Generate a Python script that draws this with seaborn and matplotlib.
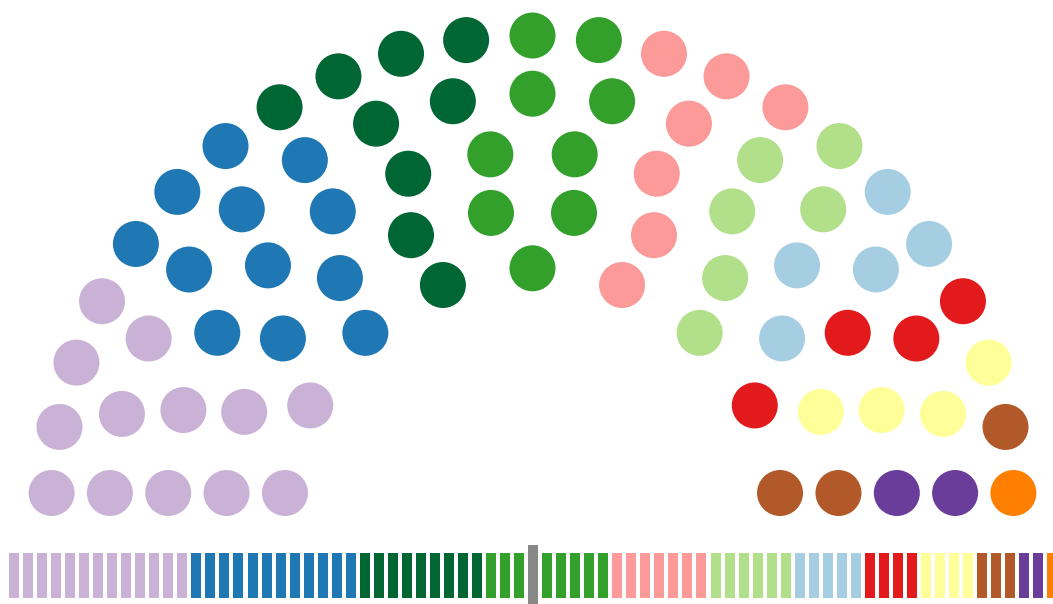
import numpy as np
import pandas as pd
import matplotlib
matplotlib.use("Agg")
import matplotlib.pyplot as plt
import seaborn as sns

# ---- data ----
parties = ["Lilac", "Blue", "Dark green", "Green", "Pink", "Light green",
           "Light blue", "Red", "Yellow", "Brown", "Purple", "Orange"]
seats = [13, 12, 9, 9, 7, 6, 5, 4, 4, 3, 2, 1]
colors = ["#cab2d6", "#1f78b4", "#006633", "#33a02c", "#fb9a99", "#b2df8a",
          "#a6cee3", "#e31a1c", "#ffff99", "#b15928", "#6a3d9a", "#ff7f00"]

# ---- layout (pixel space) ----
ring_seats = [9, 12, 14, 17, 23]
W, H = 1053, 604
cx, base_y, lift = 532.5, 493.0, 24.0
r_inner, r_step = 248.7, 58.2
cy = base_y + lift
seat_diam_px = 46
bar_x0, bar_pitch, bar_w = 9.0, 14.03, 10.0
bar_top, bar_h = 553.0, 45.0
mark_top, mark_h = 545.0, 60.0

sns.set_theme(style="white")

rows = []
for i, n in enumerate(ring_seats):
    R = r_inner + i * r_step
    t0 = np.arcsin(lift / R)
    for p in np.linspace(t0, np.pi - t0, n):
        rows.append((p, cx - R * np.cos(p), cy - R * np.sin(p)))
rows.sort(key=lambda t: t[0])
df = pd.DataFrame(rows, columns=["phi", "x", "y"])
df["party"] = np.repeat(parties, seats)

fig = plt.figure(figsize=(W / 100, H / 100), dpi=100)
fig.patch.set_facecolor("white")
ax = fig.add_axes([0, 0, 1, 1])
s = (seat_diam_px * 72 / 100) ** 2
sns.scatterplot(data=df, x="x", y="y", hue="party", hue_order=parties,
                palette=colors, s=s, linewidth=0, legend=False, ax=ax)

# seat strip
pal = dict(zip(parties, colors))
total = sum(seats)
idx = np.arange(total)
ax.bar(bar_x0 + idx * bar_pitch, bar_h, width=bar_w, bottom=bar_top,
       align="edge", color=[pal[p] for p in df["party"]], linewidth=0)
mid = total // 2
ax.bar(bar_x0 + mid * bar_pitch, mark_h, width=bar_w, bottom=mark_top,
       align="edge", color="#888888", linewidth=0)

ax.set_xlim(0, W)
ax.set_ylim(H, 0)
ax.axis("off")
fig.savefig("out.png", dpi=100)
